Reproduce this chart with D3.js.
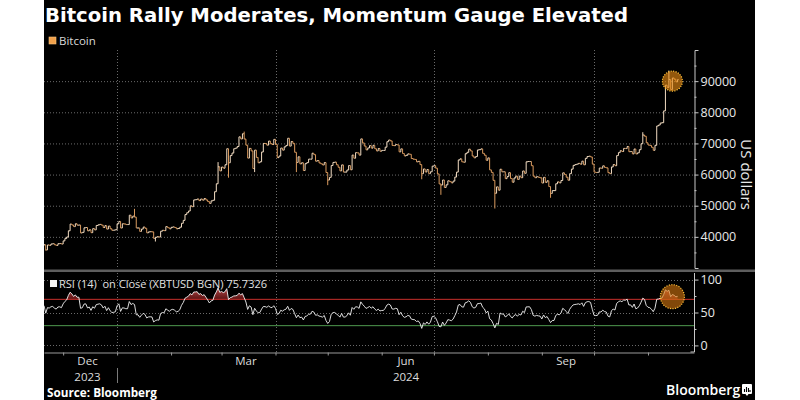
<!DOCTYPE html>
<html><head><meta charset="utf-8">
<script src="https://cdn.jsdelivr.net/npm/d3@7"></script>
<style>html,body{margin:0;padding:0;background:#fff;}svg{display:block;}text{white-space:pre;}</style>
</head><body>
<svg id="c" width="800" height="400"></svg>
<script>
// ---------- DATA (daily closes, US dollars) ----------
const firstDay = "2023-11-01";
const closeNov2023 = [35400,34950,34700,35050,35000,35050,35400,35650,36700,37300,37150,37050,36500,35550,37850,36150,36600,36550,37350,37450,35800,37400,37300,37700,37800,37450,37250,37800,37850,37700];
const closeDec2023 = [38700,39450,39950,41950,44100,43800,43300,44200,43750,43800,41250,41450,42900,43000,41950,42250,41350,42650,42250,43650,43850,44000,43750,43000,43600,42500,43450,42600,42100,42150,42300];
const closeJan2024 = [44200,44950,42850,44200,44150,43950,43950,46950,46100,46650,46350,42850,42850,41750,42500,43150,42750,41300,41600,41650,41600,39500,39850,40050,39950,41800,42100,42000,43300,42950,42600];
const closeFeb2024 = [43050,43200,43000,42600,42700,43100,44350,45300,47150,47750,48300,49950,49700,51850,51950,52150,51650,52150,51800,52300,51850,51350,50750,51550,51750,54500,57050,62500,61200];
const closeMar2024 = [62400,62050,63150,68300,63800,66100,66900,68300,68500,69000,72100,71450,73100,71400,69450,65300,68400,67600,61950,67850,65500,63800,64100,67250,70000,69950,69450,70750,69900,69650,71300];
const closeApr2024 = [69650,65450,65950,68500,67850,68900,69350,71650,69150,70600,70000,67150,63900,65700,63450,63800,61300,63500,63850,64950,64950,66850,66400,64300,64500,63750,63450,63100,63850,60650];
const closeMay2024 = [58250,59100,62900,63900,64000,63150,62350,61200,63100,60800,60800,61450,62900,61550,66250,65250,67050,66950,66250,71450,70150,69150,67950,68550,69300,68500,69400,68300,67600,68350,67500];
const closeJun2024 = [67750,67750,68800,70550,71100,70800,69350,69300,69650,69500,67300,68250,66750,66000,66200,66650,66500,65150,64950,64850,64100,64250,63200,60300,61800,60850,61600,60300,60900,62700];
const closeJul2024 = [62850,62050,60200,57000,56650,58250,55850,56700,58000,57750,57350,57900,59200,60800,64700,65050,64100,63950,66700,67150,68150,67600,65950,65400,65800,67900,68000,68250,66800,66200,64600];
const closeAug2024 = [65350,61500,60700,58150,54000,56050,55000,61700,60900,60900,58700,59350,60600,58750,57550,58900,59500,58450,59500,59000,61150,60400,64100,64200,64200,62850,59500,59000,59350,59100,58950];
const closeSep2024 = [57300,59100,57500,58000,56150,53950,54850,54850,57050,57650,57350,58100,60550,60000,59150,58200,60300,61750,62950,63200,63350,63600,63350,64300,63150,65200,65800,65900,65650,63350];
const closeOct2024 = [60800,60650,60750,62100,62050,62800,62300,62150,60600,60300,62450,63200,62850,66100,67050,67650,67400,68400,68350,69000,67350,67400,66650,68200,66650,67000,68000,69900,72700,72300,70200];
const closeNov2024 = [69500,69350,68750,67800,69400,75600,75900,76550,76650,80450,88700,88000,90500,87300,91000,90600,89800,90500];
// notable intraday extremes (date, price)
const extremeDates  = ["2023-11-21","2024-01-11","2024-01-23","2024-02-28","2024-03-05","2024-03-14","2024-03-20","2024-04-13","2024-05-01","2024-06-24","2024-07-05","2024-08-05","2024-09-06","2024-10-29","2024-11-13"];
const extremePrices = [35600,49000,38500,64000,59000,73800,60800,60800,56600,58500,53500,49100,52550,73600,93400];

const priceTicks = [40000,50000,60000,70000,80000,90000];
const priceMinorTicks = [35000,45000,55000,65000,75000,85000,95000];
const rsiTicks = [0,50,100];
const rsiMinorTicks = [25,75];
const rsiUpper = 70, rsiLower = 30, rsiPeriod = 14;
const gridDates = ["2024-01-01","2024-04-01","2024-07-01","2024-10-01"];
const monthLabels = ["Dec","Mar","Jun","Sep"];
const monthLabelDates = ["2023-12-15","2024-03-15","2024-06-15","2024-09-15"];
const yearLabels = ["2023","2024"];
const yearLabelDates = ["2023-12-15","2024-06-15"];
const yearBreakDate = "2024-01-01";
const highlightDate = "2024-11-15", highlightPrice = 90000, highlightRsi = 74;

const titleText = "Bitcoin Rally Moderates, Momentum Gauge Elevated";
const legendText = "Bitcoin";
const rsiLegendText = "RSI (14)  on Close (XBTUSD BGN) 75.7326";

// ---------- BUILD ----------
const parse = d3.utcParse("%Y-%m-%d");
const closes = [].concat(closeNov2023,closeDec2023,closeJan2024,closeFeb2024,closeMar2024,closeApr2024,closeMay2024,closeJun2024,closeJul2024,closeAug2024,closeSep2024,closeOct2024,closeNov2024);
const d0 = parse(firstDay);
const extremes = new Map(extremeDates.map((d,i)=>[+parse(d), extremePrices[i]]));
const data = closes.map((c,i)=>({date:d3.utcDay.offset(d0,i), close:c, open: i>0 ? closes[i-1] : c}));
data.forEach(d=>{ const e = extremes.get(+d.date); d.lo = Math.min(d.open,d.close, e ?? Infinity); d.hi = Math.max(d.open,d.close, e ?? -Infinity); });

// Wilder RSI(14) on close
(function(){
  let g=0,l=0;
  for(let i=1;i<=rsiPeriod;i++){const ch=closes[i]-closes[i-1]; if(ch>0) g+=ch; else l-=ch;}
  g/=rsiPeriod; l/=rsiPeriod; data[rsiPeriod].rsi = 100-100/(1+g/l);
  for(let i=rsiPeriod+1;i<closes.length;i++){
    const ch=closes[i]-closes[i-1];
    g=(g*(rsiPeriod-1)+Math.max(ch,0))/rsiPeriod;
    l=(l*(rsiPeriod-1)+Math.max(-ch,0))/rsiPeriod;
    data[i].rsi = l===0?100:100-100/(1+g/l);
  }
})();
const rsiData = data.filter(d=>d.rsi!=null);

// ---------- LAYOUT ----------
const L=44, R=694, mainTop=50, mainBot=268, rsiTop=273, rsiBot=352;
const x = d3.scaleUtc().domain([parse("2023-11-20"), new Date(Date.UTC(2024,10,27,10))]).range([L,R]);
const y = d3.scaleLinear().domain([30000,100000]).range([mainBot,mainTop]);
const yR = d3.scaleLinear().domain([-10,110]).range([rsiBot,rsiTop]);

const svg = d3.select("#c");
const FONT = "'Open Sans', 'Noto Sans', sans-serif";
svg.append("rect").attr("x",L).attr("y",0).attr("width",755-L).attr("height",400).attr("fill","#000");

const defs = svg.append("defs");
defs.append("clipPath").attr("id","clipMain").append("rect").attr("x",L).attr("y",mainTop).attr("width",R-L).attr("height",mainBot-mainTop);
defs.append("clipPath").attr("id","clipRsi").append("rect").attr("x",L).attr("y",rsiTop).attr("width",R-L).attr("height",rsiBot-rsiTop);
const grad = defs.append("linearGradient").attr("id","rsiGrad").attr("gradientUnits","userSpaceOnUse")
  .attr("x1",0).attr("x2",0).attr("y1",yR(92)).attr("y2",yR(rsiUpper));
grad.append("stop").attr("offset","0").attr("stop-color","#c85050");
grad.append("stop").attr("offset","1").attr("stop-color","#5a1414");

// title & legend
svg.append("text").attr("x",45).attr("y",22).attr("fill","#fff").attr("font-family","'DejaVu Sans', sans-serif")
  .attr("font-weight","bold").attr("font-size",20).attr("textLength",583).attr("lengthAdjust","spacingAndGlyphs").text(titleText);
svg.append("rect").attr("x",49).attr("y",37).attr("width",7).attr("height",7).attr("fill","#f0a04b").attr("stroke","#f7c27e").attr("stroke-width",0.6);
svg.append("text").attr("x",59).attr("y",45).attr("fill","#d8d8d8").attr("font-family",FONT).attr("font-size",11.5).text(legendText);

// gridlines
const gridStyle = s => s.attr("stroke","#6a6a6a").attr("stroke-width",1).attr("stroke-dasharray","1,2");
gridStyle(svg.append("g").selectAll("line").data(priceTicks).join("line")
  .attr("x1",L).attr("x2",R).attr("y1",d=>y(d)+0.5).attr("y2",d=>y(d)+0.5));
gridStyle(svg.append("g").selectAll("line").data(gridDates).join("line")
  .attr("x1",d=>Math.round(x(parse(d)))+0.5).attr("x2",d=>Math.round(x(parse(d)))+0.5).attr("y1",mainTop).attr("y2",mainBot));
gridStyle(svg.append("g").selectAll("line").data(rsiTicks).join("line")
  .attr("x1",L).attr("x2",R).attr("y1",d=>Math.round(yR(d))+0.5).attr("y2",d=>Math.round(yR(d))+0.5));
gridStyle(svg.append("g").selectAll("line").data(gridDates).join("line")
  .attr("x1",d=>Math.round(x(parse(d)))+0.5).attr("x2",d=>Math.round(x(parse(d)))+0.5).attr("y1",rsiTop).attr("y2",rsiBot));

// price bars (open = previous close)
const bars = svg.append("g").attr("clip-path","url(#clipMain)");
const bcol = d => d.close>=d.open ? "#f2dcc2" : "#d99a5e";
bars.selectAll("line.v").data(data.slice(1)).join("line").attr("class","v")
  .attr("x1",d=>x(d.date)).attr("x2",d=>x(d.date)).attr("y1",d=>y(d.lo)).attr("y2",d=>y(d.hi)+0.0001)
  .attr("stroke",bcol).attr("stroke-width",1);
bars.selectAll("line.o").data(data.slice(1)).join("line").attr("class","o")
  .attr("x1",d=>x(d.date)-1).attr("x2",d=>x(d.date)).attr("y1",d=>y(d.open)).attr("y2",d=>y(d.open))
  .attr("stroke",bcol).attr("stroke-width",1);
bars.selectAll("line.c").data(data.slice(1)).join("line").attr("class","c")
  .attr("x1",d=>x(d.date)).attr("x2",d=>x(d.date)+1).attr("y1",d=>y(d.close)).attr("y2",d=>y(d.close))
  .attr("stroke",bcol).attr("stroke-width",1);

// highlight circles
const hx = x(parse(highlightDate));
svg.append("circle").attr("cx",hx).attr("cy",y(highlightPrice)).attr("r",10)
  .attr("fill","rgba(235,140,20,0.62)").attr("stroke","#ffbf3a").attr("stroke-width",1.2).attr("stroke-dasharray","1.2,1.3");

// right price axis
const axStyle = g => { g.selectAll("path,line").attr("stroke","#c8c8c8"); g.selectAll("text").attr("fill","#e8e8e8").attr("font-family",FONT).attr("font-size",12.5); };
svg.append("g").attr("transform",`translate(${R+0.5},0)`)
  .call(d3.axisRight(y).tickValues(priceTicks).tickFormat(d3.format("d")).tickSize(4).tickSizeOuter(4).tickPadding(2)).call(axStyle)
  .call(g=>g.select(".domain").attr("stroke","#c8c8c8"));
svg.append("g").attr("transform",`translate(${R+0.5},0)`)
  .call(d3.axisRight(y).tickValues(priceMinorTicks).tickFormat("").tickSize(2).tickSizeOuter(0)).call(axStyle)
  .call(g=>g.select(".domain").remove());
svg.append("text").attr("transform",`translate(741,${(y(70000)+y(50000))/2}) rotate(90)`).attr("text-anchor","middle")
  .attr("fill","#e8e8e8").attr("font-family",FONT).attr("font-size",15).text("US dollars");

// separator band
svg.append("rect").attr("x",L).attr("y",269.5).attr("width",755-L).attr("height",2.5).attr("fill","#5e5e5e");

// RSI panel
const rsiG = svg.append("g").attr("clip-path","url(#clipRsi)");
rsiG.append("path").datum(rsiData).attr("fill","url(#rsiGrad)")
  .attr("d", d3.area().x(d=>x(d.date)).y0(yR(rsiUpper)).y1(d=>yR(Math.max(d.rsi,rsiUpper))));
rsiG.append("line").attr("x1",L).attr("x2",R).attr("y1",yR(rsiUpper)).attr("y2",yR(rsiUpper)).attr("stroke","#c8302c").attr("stroke-width",1);
rsiG.append("line").attr("x1",L).attr("x2",R).attr("y1",yR(rsiLower)).attr("y2",yR(rsiLower)).attr("stroke","#4f9a4f").attr("stroke-width",1);
rsiG.append("path").datum(rsiData).attr("fill","none").attr("stroke","#f4f4f4").attr("stroke-width",0.9)
  .attr("d", d3.line().x(d=>x(d.date)).y(d=>yR(d.rsi)));
svg.append("circle").attr("cx",hx).attr("cy",yR(highlightRsi)).attr("r",12)
  .attr("fill","rgba(215,120,15,0.6)").attr("stroke","#ffbf3a").attr("stroke-width",1.2).attr("stroke-dasharray","1.2,1.3");

svg.append("rect").attr("x",50).attr("y",280).attr("width",7).attr("height",7).attr("fill","#f4f4f4");
svg.append("text").attr("x",59).attr("y",288).attr("fill","#e0e0e0").attr("font-family",FONT).attr("font-size",11.5)
  .attr("textLength",208).attr("lengthAdjust","spacingAndGlyphs").text(rsiLegendText);

svg.append("g").attr("transform",`translate(${R+0.5},0)`)
  .call(d3.axisRight(yR).tickValues(rsiTicks).tickSize(4).tickSizeOuter(0).tickPadding(2)).call(axStyle)
  .call(g=>g.select(".domain").attr("d",`M0,${rsiTop}V${rsiBot}H-4`));
svg.append("g").attr("transform",`translate(${R+0.5},0)`)
  .call(d3.axisRight(yR).tickValues(rsiMinorTicks).tickFormat("").tickSize(2).tickSizeOuter(0)).call(axStyle)
  .call(g=>g.select(".domain").remove());

// bottom time axis
svg.append("g").attr("transform",`translate(0,${rsiBot+0.5})`)
  .call(d3.axisBottom(x).ticks(d3.utcMonth.every(1)).tickFormat("").tickSize(3).tickSizeOuter(0))
  .call(g=>{g.selectAll("path,line").attr("stroke","#9a9a9a");});
svg.append("g").selectAll("text").data(monthLabels).join("text")
  .attr("x",(d,i)=>x(parse(monthLabelDates[i]))).attr("y",365).attr("text-anchor","middle")
  .attr("fill","#dcdcdc").attr("font-family",FONT).attr("font-size",11.5).text(d=>d);
svg.append("g").selectAll("text").data(yearLabels).join("text")
  .attr("x",(d,i)=>x(parse(yearLabelDates[i]))).attr("y",381).attr("text-anchor","middle")
  .attr("fill","#dcdcdc").attr("font-family",FONT).attr("font-size",11.5).text(d=>d);
const yb = Math.round(x(parse(yearBreakDate)))+0.5;
svg.append("line").attr("x1",yb).attr("x2",yb).attr("y1",368).attr("y2",383).attr("stroke","#7a7a7a");

// footer
svg.append("text").attr("x",47).attr("y",397).attr("fill","#fff").attr("font-family",FONT).attr("font-weight","bold").attr("font-size",11.5)
  .attr("textLength",110).attr("lengthAdjust","spacingAndGlyphs").text("Source: Bloomberg");
svg.append("text").attr("x",666).attr("y",395).attr("fill","#fff").attr("font-family",FONT).attr("font-weight",600).attr("font-size",14).text("Bloomberg");
const logo = svg.append("g").attr("transform","translate(742,384)");
logo.append("rect").attr("width",10).attr("height",10).attr("rx",1).attr("fill","#fff");
logo.append("path").attr("d","M2.5,8V5M4.5,8V3M6.5,8V4M8,8V6").attr("stroke","#000").attr("stroke-width",1.1);
logo.append("path").attr("d","M3.5,10L5,12L6.5,10Z").attr("fill","#fff");
</script>
</body></html>
